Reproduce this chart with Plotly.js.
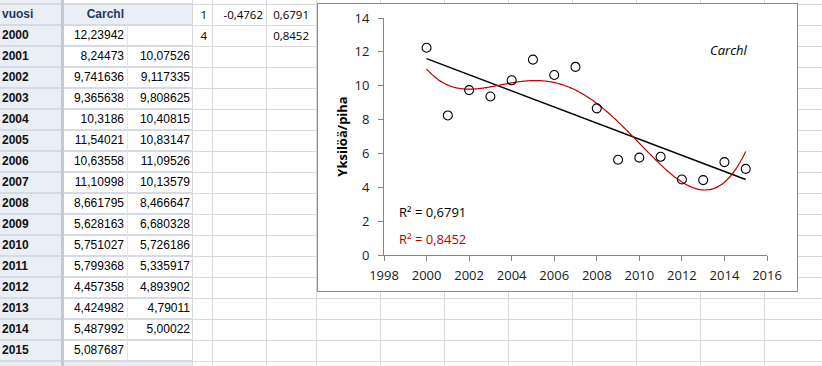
<!DOCTYPE html>
<html>
<head>
<meta charset="utf-8">
<script src="https://cdn.plot.ly/plotly-3.0.1.min.js"></script>
<style>
  html, body { margin:0; padding:0; background:#fff; width:822px; height:366px; overflow:hidden; position:relative; }
  .gl { position:absolute; background:#d9d9d9; }
  .cell { position:absolute; height:21px; line-height:21px; white-space:nowrap; font-family:"Liberation Sans", Arial, sans-serif; font-size:12px; color:#000; }
  .r { text-align:right; }
  .cal { font-family:"Open Sans", sans-serif; font-size:11.5px; }
  #chartbox { position:absolute; left:317px; top:3px; width:479px; height:287px; border:1px solid #8a8a8a; background:#fff; }
  #chart { position:absolute; left:0; top:0; width:479px; height:287px; }
</style>
</head>
<body>
<div id="sheet"></div>
<div id="chartbox"><div id="chart"></div></div>
<script>
// ---- data ----
var headers = ["vuosi", "Carchl"];
var years = [2000, 2001, 2002, 2003, 2004, 2005, 2006, 2007, 2008, 2009, 2010, 2011, 2012, 2013, 2014, 2015];
var carchlText = ["12,23942","8,24473","9,741636","9,365638","10,3186","11,54021","10,63558","11,10998","8,661795","5,628163","5,751027","5,799368","4,457358","4,424982","5,487992","5,087687"];
var carchl = [12.23942, 8.24473, 9.741636, 9.365638, 10.3186, 11.54021, 10.63558, 11.10998, 8.661795, 5.628163, 5.751027, 5.799368, 4.457358, 4.424982, 5.487992, 5.087687];
var movAvgText = ["", "10,07526","9,117335","9,808625","10,40815","10,83147","11,09526","10,13579","8,466647","6,680328","5,726186","5,335917","4,893902","4,79011","5,00022",""];
var fitRow1 = ["1", "-0,4762", "0,6791"];
var fitRow2 = ["4", "", "0,8452"];
var r2Labels = ["R\u00b2 = 0,6791", "R\u00b2 = 0,8452"];
var seriesName = "Carchl";
var yTitle = "Yksilöä/piha";
var xTicks = [1998, 2000, 2002, 2004, 2006, 2008, 2010, 2012, 2014, 2016];
var yTicks = [0, 2, 4, 6, 8, 10, 12, 14];

// ---- spreadsheet background ----
var sheet = document.getElementById('sheet');
function add(cls, css, txt) {
  var d = document.createElement('div');
  d.className = cls;
  d.style.cssText = css;
  if (txt !== undefined) d.textContent = txt;
  sheet.appendChild(d);
  return d;
}
var rowY = function(k){ return 4 + 21*k; };
var vcols = [212, 266, 316, 380, 444, 508, 572, 636, 700, 764];
vcols.forEach(function(x){ add('gl', 'left:'+x+'px;top:0;width:1px;height:366px;'); });
for (var k = 0; k <= 17; k++) add('gl', 'left:192px;top:'+rowY(k)+'px;width:630px;height:1px;');
add('gl', 'left:0;top:0;width:62px;height:366px;background:#eaeef5;');
add('gl', 'left:62px;top:'+rowY(0)+'px;width:130px;height:21px;background:#eaeef5;');
add('gl', 'left:0;top:361px;width:192px;height:5px;background:#eaeef5;');
for (var k = 0; k <= 17; k++) add('gl', 'left:0;top:'+(rowY(k)-1)+'px;width:192px;height:2px;background:#d6dbe3;');
add('gl', 'left:61px;top:0;width:3px;height:366px;background:#c4cad3;');
add('gl', 'left:127px;top:'+rowY(1)+'px;width:1px;height:'+(21*16)+'px;background:#e6e6e6;');
add('gl', 'left:192px;top:0;width:1px;height:366px;background:#d9d9d9;');
add('cell', 'left:2px;top:'+rowY(0)+'px;font-weight:bold;color:#1f3864;', headers[0]);
add('cell r', 'left:62px;width:62px;top:'+rowY(0)+'px;font-weight:bold;color:#1f3864;', headers[1]);
years.forEach(function(y, i){
  add('cell', 'left:2px;top:'+rowY(i+1)+'px;font-weight:bold;color:#111;', String(y));
  add('cell r', 'left:62px;width:62px;top:'+rowY(i+1)+'px;', carchlText[i]);
  add('cell r', 'left:128px;width:62px;top:'+rowY(i+1)+'px;', movAvgText[i]);
});
var fx = [[192, 15], [212, 51], [266, 43]];
[fitRow1, fitRow2].forEach(function(row, r){
  row.forEach(function(t, c){
    add('cell r cal', 'left:'+fx[c][0]+'px;width:'+fx[c][1]+'px;top:'+rowY(r)+'px;', t);
  });
});

// ---- trendlines (least squares fits of the data, as in the spreadsheet) ----
function polyfit(xs, ys, deg, x0, s) {
  var n = deg + 1, A = [], b = [];
  for (var i = 0; i < n; i++) { A.push(new Array(n).fill(0)); b.push(0); }
  for (var p = 0; p < xs.length; p++) {
    var t = (xs[p] - x0) / s, pw = [];
    for (var i = 0; i <= 2*deg; i++) pw.push(Math.pow(t, i));
    for (var i = 0; i < n; i++) {
      b[i] += ys[p] * pw[i];
      for (var j = 0; j < n; j++) A[i][j] += pw[i+j];
    }
  }
  for (var c = 0; c < n; c++) {
    var piv = c;
    for (var r = c+1; r < n; r++) if (Math.abs(A[r][c]) > Math.abs(A[piv][c])) piv = r;
    var tmp = A[c]; A[c] = A[piv]; A[piv] = tmp; var tb = b[c]; b[c] = b[piv]; b[piv] = tb;
    for (var r = c+1; r < n; r++) {
      var f = A[r][c] / A[c][c];
      for (var j = c; j < n; j++) A[r][j] -= f * A[c][j];
      b[r] -= f * b[c];
    }
  }
  var coef = new Array(n).fill(0);
  for (var r = n-1; r >= 0; r--) {
    var sum = b[r];
    for (var j = r+1; j < n; j++) sum -= A[r][j] * coef[j];
    coef[r] = sum / A[r][r];
  }
  return function(x) { var t = (x - x0)/s, v = 0; for (var i = n-1; i >= 0; i--) v = v*t + coef[i]; return v; };
}
var x0 = 2007.5, sc = 7.5;
var lin = polyfit(years, carchl, 1, x0, sc);
var quart = polyfit(years, carchl, 4, x0, sc);
var linX = [years[0], years[years.length-1]];
var linY = linX.map(lin);
var curveX = [], curveY = [];
for (var x = years[0]; x <= years[years.length-1] + 1e-9; x += 0.05) { curveX.push(x); curveY.push(quart(x)); }

var font = "Open Sans, sans-serif";
var traces = [
  { x: linX, y: linY, mode: 'lines', line: {color: '#000', width: 1.5}, hoverinfo: 'skip', showlegend: false },
  { x: curveX, y: curveY, mode: 'lines', line: {color: '#c00000', width: 1.2, shape: 'spline'}, hoverinfo: 'skip', showlegend: false },
  { x: years, y: carchl, mode: 'markers', name: seriesName,
    marker: {symbol: 'circle-open', size: 9, color: '#000', line: {width: 1.1, color: '#000'}}, showlegend: false }
];
var layout = {
  width: 479, height: 287,
  margin: {l: 66, r: 30, t: 14, b: 36},
  paper_bgcolor: '#fff', plot_bgcolor: '#fff',
  font: {family: font, size: 13, color: '#1a1a1a'},
  showlegend: false,
  xaxis: { range: [1998, 2016], tickvals: xTicks, ticktext: xTicks.map(String), showgrid: false, zeroline: false,
           showline: true, linecolor: '#868686', linewidth: 1, ticks: 'outside', ticklen: 5, tickcolor: '#868686',
           ticklabelstandoff: 3, tickfont: {family: font, size: 13, color: '#1a1a1a'} },
  yaxis: { range: [0, 14], tickvals: yTicks, ticktext: yTicks.map(String), showgrid: false, zeroline: false,
           showline: true, linecolor: '#868686', linewidth: 1, ticks: 'outside', ticklen: 5, tickcolor: '#868686',
           ticklabelstandoff: 6, tickfont: {family: font, size: 13, color: '#1a1a1a'},
           title: {text: yTitle, font: {family: font, size: 13, color: '#000', weight: 'bold'}, standoff: 3} },
  annotations: [
    { text: seriesName, xref: 'paper', yref: 'paper', x: 0.900, y: 0.865, xanchor: 'center', yanchor: 'middle', showarrow: false,
      font: {family: font, size: 13, color: '#000', style: 'italic'} },
    { text: r2Labels[0], xref: 'paper', yref: 'paper', x: 0.035, y: 0.181, xanchor: 'left', yanchor: 'middle', showarrow: false,
      font: {family: font, size: 13, color: '#000'} },
    { text: r2Labels[1], xref: 'paper', yref: 'paper', x: 0.033, y: 0.068, xanchor: 'left', yanchor: 'middle', showarrow: false,
      font: {family: font, size: 13, color: '#c00000'} }
  ]
};
Plotly.newPlot('chart', traces, layout, {displayModeBar: false, staticPlot: true});
</script>
</body>
</html>
